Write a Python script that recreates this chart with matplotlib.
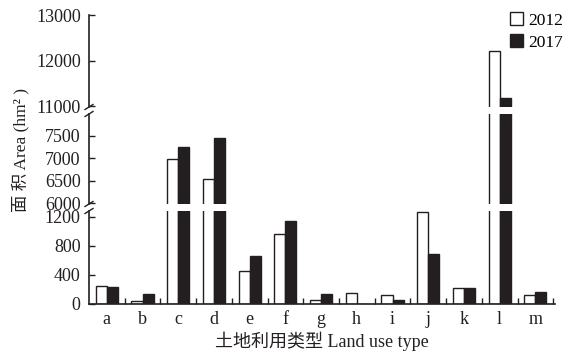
import matplotlib
matplotlib.use("Agg")
import matplotlib.pyplot as plt
import numpy as np
from matplotlib.lines import Line2D

plt.rcParams['font.family'] = ['Liberation Serif', 'Noto Sans CJK SC']
plt.rcParams['font.size'] = 13

# land use area by type (hm2)
categories = ['a', 'b', 'c', 'd', 'e', 'f', 'g', 'h', 'i', 'j', 'k', 'l', 'm']
area_2012 = [248, 37, 6980, 6540, 451, 966, 55, 156, 124, 1260, 221, 12200, 120]
area_2017 = [230, 138, 7250, 7450, 667, 1149, 134, 0, 51, 690, 221, 11180, 165]

# y segments of the broken axis, top to bottom
segments = [
    ((10980, 13000), [11000, 12000, 13000]),
    ((5980, 7980), [6000, 6500, 7000, 7500]),
    ((0, 1280), [0, 400, 800, 1200]),
]

W, H = 568, 354
fig = plt.figure(figsize=(W / 100, H / 100), dpi=100)

left_px, right_px = 89, 555
panel_px = [(15, 107), (114, 204), (211, 304)]  # top/bottom pixel rows of each panel

x = np.arange(len(categories))
bw = 0.31
ink = '#231f20'
axes = []
for (ylim, ticks), (top, bot) in zip(segments, panel_px):
    ax = fig.add_axes([left_px / W, 1 - bot / H, (right_px - left_px) / W, (bot - top) / H])
    ax.bar(x - bw / 2, area_2012, bw, color='white', edgecolor=ink, linewidth=1.0, label='2012')
    ax.bar(x + bw / 2, area_2017, bw, color=ink, edgecolor=ink, linewidth=1.0, label='2017')
    ax.set_ylim(*ylim)
    ax.set_xlim(-0.5, 12.55)
    ax.set_yticks(ticks)
    ax.tick_params(axis='y', direction='in', length=4, width=1, pad=6, labelsize=13, colors=ink)
    for s in ['top', 'right', 'bottom']:
        ax.spines[s].set_visible(False)
    ax.spines['left'].set_linewidth(1.2)
    ax.spines['left'].set_color(ink)
    ax.set_xticks([])
    axes.append(ax)

# x axis only on the bottom panel, ticks between groups
axb = axes[-1]
axb.spines['bottom'].set_visible(True)
axb.spines['bottom'].set_linewidth(1.2)
axb.spines['bottom'].set_color(ink)
axb.set_xticks(np.arange(1, 14) - 0.5, minor=True)
axb.set_xticks(x)
axb.set_xticklabels(categories, fontsize=13, color=ink)
axb.tick_params(axis='x', which='major', length=0, pad=5)
axb.tick_params(axis='x', which='minor', direction='in', length=4, width=1, color=ink)

# legend at the top right corner
axes[0].legend(loc='upper right', bbox_to_anchor=(567 / W, 1 - 9 / H), bbox_transform=fig.transFigure,
               frameon=False, fontsize=12.5, handlelength=0.75, handleheight=0.75,
               handletextpad=0.35, labelspacing=0.3, borderpad=0.2, borderaxespad=0)

# break marks on the left spine
for yb in [107, 114, 204, 211]:
    fig.add_artist(Line2D([(left_px - 4) / W, (left_px + 4) / W],
                          [1 - (yb + 2.5) / H, 1 - (yb - 2.5) / H],
                          color=ink, linewidth=1.0))

fig.text(20 / W, 1 - 150 / H, '面 积 Area (hm² )', rotation=90, ha='center', va='center',
         fontsize=12.5, color=ink)
fig.text(322 / W, 1 - 341 / H, '土地利用类型 Land use type', ha='center', va='center',
         fontsize=13, color=ink)

fig.savefig('out.png', dpi=100)
